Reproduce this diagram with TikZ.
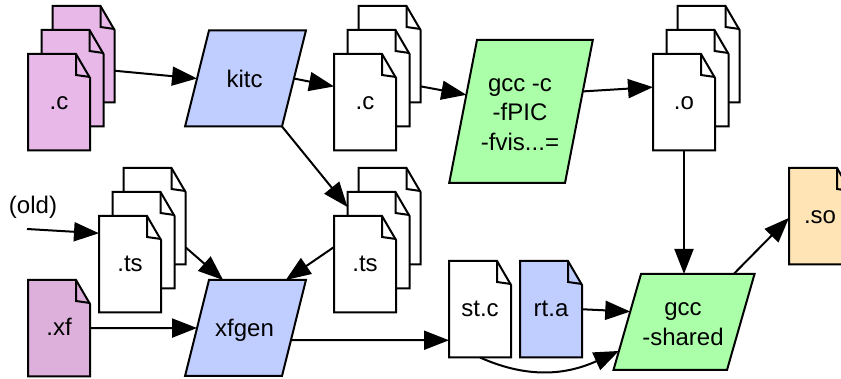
\documentclass[tikz,border=0pt]{standalone}
\usepackage{fontspec}
\setmainfont{Liberation Sans}
\usetikzlibrary{shapes.geometric, arrows.meta}

\definecolor{srcpink}{HTML}{E8B8E8}
\definecolor{xfpink}{HTML}{DDB0DC}
\definecolor{toolblue}{HTML}{C0CEFF}
\definecolor{toolgreen}{HTML}{AAFFA8}
\definecolor{soyellow}{HTML}{FFE4B5}

\tikzset{
    every node/.style={font=\fontsize{24}{29.5}\selectfont},
    docbody/.style={line width=2pt, line join=miter},
    doclabel/.style={anchor=north west, inner sep=0pt, outer sep=0pt, minimum width=62pt, minimum height=96.5pt,
        text height=15.5pt, text depth=0pt},
    % body width, height, left angle, right angle
    tool/.style n args={4}{draw, line width=2pt, shape=trapezium, inner sep=0pt, outer sep=0pt,
        text width=#1pt, text height=#2pt, text depth=0pt,
        trapezium left angle=#3, trapezium right angle=#4},
    toollabel/.style={align=center, inner sep=0pt, xshift=-1pt},
    conn/.style={line width=2pt, ->}
}

% one page with a folded corner: name, left, top, fill, text
\newcommand{\docfile}[5]{
    \filldraw[docbody, fill=#4] (#2, #3) -- ++(48, 0) -- ++(14, 24) -- ++(0, 72.5) -- ++(-62, 0) -- cycle;
    \draw[docbody] (#2 + 48, #3) -- ++(0, 21) -- ++(14, 2);
    \node[doclabel] (#1) at (#2, #3) {#5};
}
% three pages, back to front
\newcommand{\docstack}[5]{
    \docfile{#1back}{#2 + 24.5}{#3 - 48}{#4}{}
    \docfile{#1mid}{#2 + 13.5}{#3 - 24}{#4}{}
    \docfile{#1front}{#2}{#3}{#4}{#5}
}

\begin{document}
\begin{tikzpicture}[x=1pt, y=-1pt, >={Triangle[length=25pt, width=19pt]}]
    \useasboundingbox (0, 0) rectangle (841, 379);
    \clip (0, 0) rectangle (841, 379);

    % 1. Files
    \docstack{csrc}{28}{54}{srcpink}{.c}
    \docstack{cgen}{334}{54}{white}{.c}
    \docstack{obj}{653}{54}{white}{.o}
    \docstack{tsold}{99}{216}{white}{.ts}
    \docstack{tsgen}{334}{216}{white}{.ts}
    \docfile{xf}{28}{280}{xfpink}{.xf}
    \docfile{stc}{449}{261}{white}{st.c}
    \docfile{rta}{520}{261}{toolblue}{rt.a}
    \docfile{so}{789}{168}{soyellow}{.so}

    % 2. Tools
    \node[tool={73}{96}{76}{104}, fill=toolblue,
        label={[toollabel, name=kitctext]center:kitc}] (kitc) at (245.5, 78.5) {};
    \node[tool={88}{143}{79}{101}, fill=toolgreen,
        label={[toollabel, yshift=-3pt, name=gccctext]center:gcc -c\\-fPIC\\-fvis...=}] (gccc) at (521, 111.5) {};
    \node[tool={73}{96}{76}{104}, fill=toolblue,
        label={[toollabel, yshift=-2pt, name=xfgentext]center:xfgen}] (xfgen) at (245.5, 328) {};
    \node[tool={86}{96}{74}{106}, fill=toolgreen,
        label={[toollabel, yshift=-2pt, name=gccstext]center:gcc\\-shared}] (gccs) at (684, 322) {};

    % 3. Free label and free end
    \node[inner sep=0pt] (old) at (33, 207) {(old)};
    \coordinate (oldin) at (27, 229);

    % 4. Connectors
    \draw[conn] (csrcback.-28) -- (kitc.west);
    \draw[conn] (kitc.east) -- (cgenfront.153);
    \draw[conn] (kitc.bottom right corner) -- (tsgenmid.133);
    \draw[conn] (cgenback.-46) -- (gccc.163);
    \draw[conn] (gccc.18) -- (objfront.154);
    \draw[conn] (objfront.south) -- (gccs.north);
    \draw[conn] (gccs.44) -- (so.183);
    \draw[conn] (oldin) -- (tsoldfront.135);
    \draw[conn] (tsoldback.-45) -- (xfgen.115);
    \draw[conn] (tsgenfront.151) -- (xfgen.50);
    \draw[conn] (xf.east) -- (xfgen.west);
    \draw[conn] (xfgen.-15) -- (stc.225);
    \draw[conn] (rta.east) -- (gccs.169);
    \draw[conn] (stc.south) .. controls (515, 373) and (555, 380) .. (gccs.204);
\end{tikzpicture}
\end{document}
